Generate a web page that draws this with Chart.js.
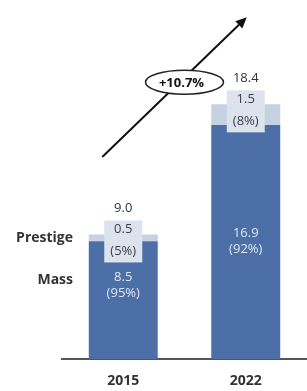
<!DOCTYPE html>
<html>
<head>
<meta charset="utf-8">
<script src="https://cdn.jsdelivr.net/npm/chart.js@4"></script>
<style>
  html, body { margin: 0; padding: 0; background: #fff; }
  #wrap { width: 307px; height: 391px; }
</style>
</head>
<body>
<div id="wrap"><canvas id="chart"></canvas></div>
<script>
const years = ['2015', '2022'];
const mass = [8.5, 16.9];
const prestige = [0.5, 1.5];
const totals = ['9.0', '18.4'];
const massShare = ['(95%)', '(92%)'];
const prestigeShare = ['(5%)', '(8%)'];
const seriesNames = ['Mass', 'Prestige'];
const growth = '+10.7%';

const massColor = '#4b6fa6';
const prestigeColor = '#c6d1e2';
const boxColor = '#dde3ed';
const font = '"Open Sans", Lato, sans-serif';

// labels inside / above the bars, side labels, growth arrow
const overlay = {
  id: 'overlay',
  afterDatasetsDraw(chart) {
    const c = chart.ctx;
    const x = chart.scales.x;
    const y = chart.scales.y;
    const massBars = chart.getDatasetMeta(0).data;
    const presBars = chart.getDatasetMeta(1).data;
    c.save();
    c.textAlign = 'center';
    c.textBaseline = 'middle';

    years.forEach((yr, i) => {
      const pb = presBars[i];
      const mb = massBars[i];
      const cx = pb.x;

      // prestige label box
      const boxTop = pb.y - 14;
      c.fillStyle = boxColor;
      c.fillRect(cx - 19, boxTop, 38, 42);
      c.fillStyle = '#3a3f4a';
      c.font = '13px ' + font;
      c.fillText(prestige[i].toFixed(1), cx, boxTop + 9);
      c.fillText(prestigeShare[i], cx, boxTop + 31);

      // total above
      c.fillStyle = '#333';
      c.fillText(totals[i], cx, boxTop - 12);

      // mass label
      c.fillStyle = '#dfe6f1';
      const my = i === 0 ? mb.y + 36 : (mb.y + mb.base) / 2 - 9;
      c.fillText(mass[i].toFixed(1), cx, my);
      c.fillText(massShare[i], cx, my + 16);
    });

    // side labels
    c.textAlign = 'right';
    c.fillStyle = '#333';
    c.font = 'bold 14px ' + font;
    c.fillText(seriesNames[1], x.left + 11, presBars[0].y + 4);
    c.fillText(seriesNames[0], x.left + 11, massBars[0].y + 39);

    // growth arrow
    const x0 = x.getPixelForValue(0) - 21, y0 = y.getPixelForValue(14.6);
    const x1 = x.getPixelForValue(1) + 1, y1 = y.getPixelForValue(24.7);
    const ang = Math.atan2(y1 - y0, x1 - x0);
    c.strokeStyle = '#111';
    c.lineWidth = 2;
    c.beginPath();
    c.moveTo(x0, y0);
    c.lineTo(x1 - 8 * Math.cos(ang), y1 - 8 * Math.sin(ang));
    c.stroke();
    c.fillStyle = '#111';
    c.beginPath();
    c.moveTo(x1, y1);
    c.lineTo(x1 - 11 * Math.cos(ang) + 5 * Math.sin(ang), y1 - 11 * Math.sin(ang) - 5 * Math.cos(ang));
    c.lineTo(x1 - 11 * Math.cos(ang) - 5 * Math.sin(ang), y1 - 11 * Math.sin(ang) + 5 * Math.cos(ang));
    c.closePath();
    c.fill();

    // growth ellipse
    const ex = (x.getPixelForValue(0) + x.getPixelForValue(1)) / 2;
    const ey = y.getPixelForValue(20.0);
    c.beginPath();
    c.ellipse(ex, ey, 39, 12, 0, 0, Math.PI * 2);
    c.fillStyle = '#fff';
    c.fill();
    c.lineWidth = 1.5;
    c.strokeStyle = '#222';
    c.stroke();
    c.textAlign = 'center';
    c.fillStyle = '#111';
    c.font = 'bold 13px ' + font;
    c.fillText(growth, ex - 3, ey + 1);
    c.restore();
  }
};

new Chart(document.getElementById('chart'), {
  type: 'bar',
  data: {
    labels: years,
    datasets: [
      { label: seriesNames[0], data: mass, backgroundColor: massColor },
      { label: seriesNames[1], data: prestige, backgroundColor: prestigeColor }
    ]
  },
  options: {
    responsive: true,
    maintainAspectRatio: false,
    animation: false,
    events: [],
    categoryPercentage: 1,
    barPercentage: 0.563,
    layout: { padding: { left: 62, right: 0, top: 13, bottom: 0 } },
    plugins: { legend: { display: false }, tooltip: { enabled: false } },
    scales: {
      x: {
        stacked: true,
        grid: { display: false, drawTicks: false },
        border: { display: true, color: '#555', width: 2 },
        ticks: { color: '#333', padding: 14, font: { family: font, size: 14, weight: 'bold' } },
        afterFit(scale) { scale.height = 32; }
      },
      y: {
        stacked: true,
        display: false,
        min: 0,
        max: 25
      }
    }
  },
  plugins: [overlay]
});
</script>
</body>
</html>
